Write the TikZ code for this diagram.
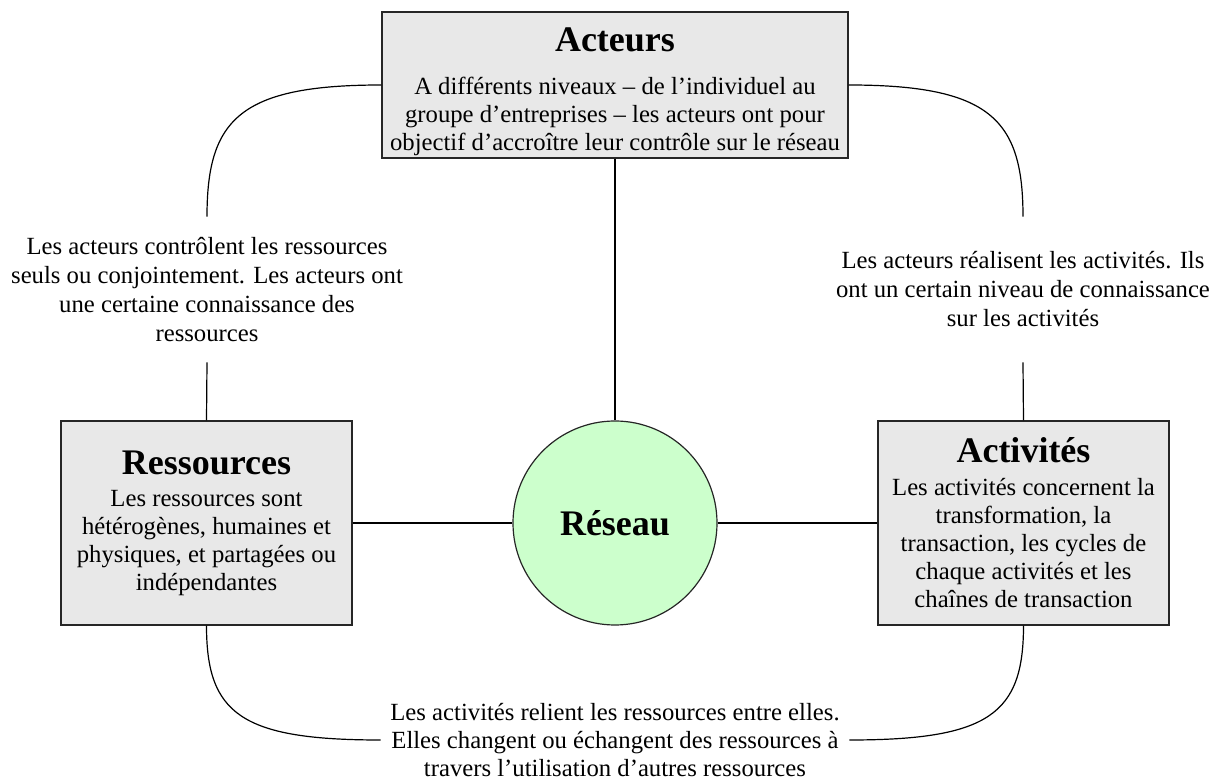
\documentclass[tikz,border=0pt]{standalone}
\usepackage{fontspec}
\setmainfont{Liberation Serif}
\usetikzlibrary{positioning}
\definecolor{gris}{HTML}{E8E8E8}
\definecolor{vert}{HTML}{CCFFCC}
\newcommand{\titre}[1]{{\fontsize{18}{20}\selectfont\bfseries #1}}

\begin{document}
\begin{tikzpicture}[x=0.5pt, y=-0.5pt]

	\tikzstyle{boite}=[rectangle, draw=black!85, fill=gris, line width=0.6pt, align=center, inner xsep=4pt, inner ysep=0.5pt, minimum width=145.5pt, minimum height=102pt, font=\fontsize{12.35}{14}\selectfont]
	\tikzstyle{cercle}=[circle, draw=black!85, fill=vert, line width=0.6pt, minimum size=102pt, inner sep=0pt]
	\tikzstyle{etiq}=[align=center, inner sep=0pt, font=\fontsize{12.35}{14.5}\selectfont]
	\tikzstyle{lien}=[line width=0.6pt]

	\useasboundingbox (0, 0) rectangle (1212, 780);

	\coordinate (acteurs) at (615, 85);
	\coordinate (reseau) at (615, 523);
	\coordinate (ressources) at (206.5, 523);
	\coordinate (activites) at (1023.5, 523);

	\coordinate (l_1) at (207, 289.5);
	\coordinate (l_2) at (1023, 289.5);
	\coordinate (l_3) at (615, 740);

	\node[boite, minimum width=233pt, minimum height=73pt] (acteurs) at (acteurs) {\titre{\rule{0pt}{19.5pt}Acteurs}\\[7.5pt] A différents niveaux – de l'individuel au\\ groupe d'entreprises – les acteurs ont pour\\ objectif d'accroître leur contrôle sur le réseau\rule[-3pt]{0pt}{3pt}}; % HAUT
	\node[cercle] (reseau) at (reseau) {\titre{Réseau}}; % CENTRE
	\node[boite] (ressources) at (ressources) {\titre{Ressources}\\[2pt] Les ressources sont\\ hétérogènes, humaines et\\ physiques, et partagées ou\\ indépendantes}; % GAUCHE
	\node[boite] (activites) at (activites) {\titre{Activités}\\[2.5pt] Les activités concernent la\\ transformation, la\\ transaction, les cycles de\\ chaque activités et les\\ chaînes de transaction}; % DROITE

	\node[etiq, minimum height=72.5pt] (l_1) at (l_1) {Les acteurs contrôlent les ressources\\ seuls ou conjointement. Les acteurs ont\\ une certaine connaissance des\\ ressources};
	\node[etiq, minimum height=72.5pt] (l_2) at (l_2) {Les acteurs réalisent les activités. Ils\\ ont un certain niveau de connaissance\\ sur les activités};
	\node[etiq, minimum width=234pt, font=\fontsize{12.35}{14}\selectfont] (l_3) at (l_3) {Les activités relient les ressources entre elles.\\ Elles changent ou échangent des ressources à\\ travers l'utilisation d'autres ressources};

	\draw[lien] (acteurs) -- (reseau);
	\draw[lien] (ressources) -- (reseau);
	\draw[lien] (reseau) -- (activites);

	\draw[lien] (acteurs.west) .. controls +(-142, 0) and +(0, -97) .. (l_1.north);
	\draw[lien] (l_1.south) -- (ressources.north);
	\draw[lien] (acteurs.east) .. controls +(142, 0) and +(0, -97) .. (l_2.north);
	\draw[lien] (l_2.south) -- (activites.north);

	\draw[lien] (ressources.south) .. controls +(0, 88) and +(-140, 0) .. (l_3.west);
	\draw[lien] (l_3.east) .. controls +(140, 0) and +(0, 88) .. (activites.south);

\end{tikzpicture}
\end{document}
